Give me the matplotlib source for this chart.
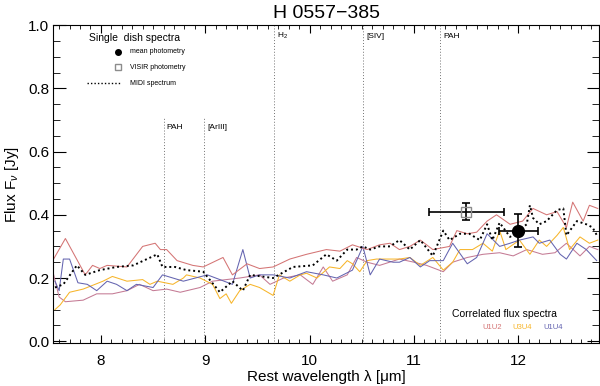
import numpy as np
import matplotlib; matplotlib.use('Agg'); import matplotlib.pyplot as plt
from matplotlib.ticker import MultipleLocator

plt.rcParams['font.family'] = ['Liberation Sans', 'DejaVu Sans']
plt.rcParams['mathtext.fontset'] = 'custom'
plt.rcParams['mathtext.rm'] = 'Liberation Sans'
plt.rcParams['mathtext.it'] = 'Liberation Sans:italic'

# MIDI spectrum (single dish)
midi_x = [7.56, 7.64, 7.77, 7.85, 7.99, 8.15, 8.31, 8.54, 8.59, 8.71, 8.82, 8.98, 9.14, 9.26, 9.36, 9.43,
          9.65, 9.84, 10.03, 10.16, 10.26, 10.36, 10.45, 10.51, 10.58, 10.67, 10.77, 10.86, 10.96, 11.06,
          11.18, 11.28, 11.34, 11.44, 11.53, 11.63, 11.70, 11.75, 11.82, 11.92, 12.08, 12.11, 12.14, 12.20,
          12.27, 12.37, 12.43, 12.46, 12.56, 12.65, 12.71, 12.76]
midi_y = [0.17, 0.18, 0.24, 0.21, 0.225, 0.235, 0.24, 0.275, 0.235, 0.235, 0.225, 0.22, 0.155, 0.19, 0.16, 0.21,
          0.20, 0.235, 0.24, 0.275, 0.255, 0.29, 0.29, 0.30, 0.29, 0.30, 0.30, 0.32, 0.29, 0.32,
          0.27, 0.35, 0.32, 0.34, 0.34, 0.32, 0.37, 0.32, 0.375, 0.33, 0.37, 0.43, 0.39, 0.37,
          0.38, 0.415, 0.42, 0.335, 0.38, 0.37, 0.36, 0.33]

# correlated flux spectra
u12a_x = [7.54, 7.66, 7.85, 7.92, 7.99, 8.06, 8.25, 8.40, 8.52, 8.57, 8.63, 8.73, 8.88, 8.98, 9.17, 9.26,
          9.40, 9.52, 9.65, 9.81, 9.97, 10.16, 10.29, 10.41, 10.55, 10.67, 10.77, 10.86, 10.96, 11.06,
          11.18, 11.34, 11.41, 11.51, 11.60, 11.70, 11.79, 11.92, 12.04, 12.14, 12.27, 12.37, 12.46, 12.52,
          12.62, 12.68, 12.76]
u12a_y = [0.256, 0.325, 0.21, 0.24, 0.23, 0.24, 0.235, 0.30, 0.31, 0.29, 0.29, 0.255, 0.24, 0.235, 0.265, 0.21,
          0.245, 0.23, 0.235, 0.26, 0.275, 0.29, 0.285, 0.305, 0.29, 0.305, 0.31, 0.29, 0.30, 0.32,
          0.29, 0.30, 0.35, 0.34, 0.345, 0.38, 0.40, 0.37, 0.38, 0.42, 0.40, 0.41, 0.36, 0.44,
          0.38, 0.43, 0.42]

u12b_x = [7.54, 7.60, 7.66, 7.83, 7.96, 8.11, 8.25, 8.37, 8.50, 8.63, 8.76, 8.95, 9.07, 9.33, 9.52, 9.62,
          9.75, 9.91, 10.03, 10.13, 10.22, 10.36, 10.45, 10.55, 10.67, 10.86, 11.00, 11.12, 11.28, 11.37,
          11.51, 11.66, 11.82, 11.95, 12.08, 12.23, 12.35, 12.46, 12.59, 12.68, 12.76]
u12b_y = [0.22, 0.14, 0.125, 0.13, 0.15, 0.15, 0.16, 0.18, 0.16, 0.165, 0.155, 0.17, 0.19, 0.20, 0.21, 0.18,
          0.20, 0.21, 0.18, 0.235, 0.19, 0.21, 0.265, 0.25, 0.24, 0.26, 0.25, 0.24, 0.22, 0.25,
          0.265, 0.275, 0.28, 0.27, 0.29, 0.275, 0.28, 0.31, 0.27, 0.30, 0.29]

u34_x = [7.56, 7.61, 7.70, 7.83, 8.02, 8.11, 8.25, 8.40, 8.47, 8.54, 8.69, 8.79, 8.82, 8.95, 9.07, 9.14,
         9.20, 9.25, 9.33, 9.43, 9.52, 9.65, 9.71, 9.81, 9.91, 9.97, 10.07, 10.19, 10.29, 10.36,
         10.41, 10.48, 10.55, 10.64, 10.77, 10.86, 10.96, 11.06, 11.18, 11.28, 11.37, 11.44, 11.56, 11.66,
         11.75, 11.82, 11.88, 12.01, 12.11, 12.20, 12.27, 12.37, 12.43, 12.49, 12.59, 12.68, 12.76]
u34_y = [0.10, 0.115, 0.155, 0.165, 0.19, 0.205, 0.19, 0.195, 0.18, 0.19, 0.18, 0.20, 0.21, 0.20, 0.18, 0.135,
         0.15, 0.12, 0.16, 0.18, 0.17, 0.145, 0.21, 0.19, 0.21, 0.215, 0.20, 0.235, 0.23, 0.255,
         0.245, 0.22, 0.255, 0.26, 0.26, 0.26, 0.265, 0.24, 0.265, 0.225, 0.25, 0.29, 0.29, 0.31,
         0.285, 0.35, 0.29, 0.32, 0.275, 0.32, 0.30, 0.335, 0.36, 0.29, 0.33, 0.31, 0.32]

u14_x = [7.56, 7.60, 7.64, 7.70, 7.78, 7.87, 7.96, 8.06, 8.15, 8.25, 8.34, 8.50, 8.59, 8.69, 8.79, 9.02,
         9.14, 9.26, 9.36, 9.43, 9.52, 9.65, 9.81, 9.97, 10.13, 10.26, 10.41, 10.51, 10.58, 10.67,
         10.80, 10.86, 10.96, 11.06, 11.15, 11.28, 11.37, 11.51, 11.60, 11.70, 11.82, 11.92, 12.01, 12.14,
         12.20, 12.30, 12.40, 12.46, 12.56, 12.65, 12.75]
u14_y = [0.19, 0.16, 0.26, 0.26, 0.185, 0.18, 0.16, 0.19, 0.18, 0.16, 0.18, 0.17, 0.21, 0.20, 0.19, 0.21,
         0.195, 0.18, 0.29, 0.20, 0.21, 0.21, 0.20, 0.22, 0.21, 0.20, 0.225, 0.30, 0.21, 0.26,
         0.25, 0.25, 0.265, 0.235, 0.255, 0.255, 0.31, 0.245, 0.265, 0.34, 0.30, 0.31, 0.32, 0.33,
         0.31, 0.32, 0.275, 0.26, 0.31, 0.29, 0.255]

# photometry
phot_x, phot_y, phot_xerr, phot_yerr = 12.0, 0.35, 0.19, 0.053
visir_x, visir_y, visir_xerr, visir_yerr = 11.5, 0.41, 0.36, 0.028

# line markers
lines_lam = [8.6, 8.99, 9.66, 10.51, 11.25]
lines_lab = ['PAH', '[ArIII]', 'H$_2$', '[SIV]', 'PAH']
lines_top = [0.71, 0.71, 1.0, 1.0, 1.0]

fig = plt.figure(figsize=(6, 3.86), dpi=100)
ax = fig.add_axes([0.089, 0.111, 0.909, 0.824])

for lam, lab, top in zip(lines_lam, lines_lab, lines_top):
    ax.plot([lam, lam], [0, top], ls=(0, (1, 2)), color='0.45', lw=0.7)
    ax.text(lam + 0.03, top - 0.035, lab, fontsize=6, ha='left', va='center')

ax.plot(u12b_x, u12b_y, color='#c47a94', lw=0.75)
ax.plot(u34_x, u34_y, color='#f7b52a', lw=0.75)
ax.plot(u14_x, u14_y, color='#6464b0', lw=0.75)
ax.plot(u12a_x, u12a_y, color='#d47474', lw=0.75)
ax.plot(midi_x, midi_y, color='black', ls=(0, (1, 1.5)), lw=1.4)

ax.errorbar(visir_x, visir_y, xerr=visir_xerr, yerr=visir_yerr, fmt='s', ms=7, mfc='none', mec='0.55',
            ecolor='black', elinewidth=1.2, capsize=3, capthick=1.2)
ax.errorbar(phot_x, phot_y, xerr=phot_xerr, yerr=phot_yerr, fmt='o', ms=8.5, color='black',
            ecolor='black', elinewidth=1.2, capsize=3, capthick=1.2)

# single dish legend
ax.text(7.89, 0.96, 'Single  dish spectra', fontsize=7.5, va='center')
ax.plot([8.16], [0.916], 'o', color='black', ms=4)
ax.text(8.28, 0.916, 'mean photometry', fontsize=5, va='center')
ax.plot([8.16], [0.866], 's', mfc='none', mec='0.55', ms=4)
ax.text(8.28, 0.866, 'VISIR photometry', fontsize=5, va='center')
ax.plot([7.87, 8.19], [0.816, 0.816], color='black', ls=(0, (1, 1.5)), lw=1)
ax.text(8.28, 0.816, 'MIDI spectrum', fontsize=5, va='center')

# correlated flux legend
ax.text(11.36, 0.085, 'Correlated flux spectra', fontsize=7.5, va='center')
ax.text(11.65, 0.043, 'U1U2', fontsize=5.5, va='center', color='#d47474')
ax.text(11.94, 0.043, 'U3U4', fontsize=5.5, va='center', color='#f7b52a')
ax.text(12.24, 0.043, 'U1U4', fontsize=5.5, va='center', color='#6464b0')

ax.set_xlim(7.545, 12.77)
ax.set_ylim(-0.006, 1.0)
ax.xaxis.set_major_locator(MultipleLocator(1))
ax.xaxis.set_minor_locator(MultipleLocator(0.1))
ax.yaxis.set_major_locator(MultipleLocator(0.2))
ax.yaxis.set_minor_locator(MultipleLocator(0.05))
ax.yaxis.set_major_formatter(plt.FormatStrFormatter('%.1f'))
ax.tick_params(which='both', direction='in', top=True, right=True, labelsize=11)
ax.tick_params(axis='x', which='major', length=6, pad=8)
ax.tick_params(axis='x', which='minor', length=3)
ax.tick_params(axis='y', which='major', length=9, pad=3)
ax.tick_params(axis='y', which='minor', length=5)

ax.set_xlabel('Rest wavelength λ [μm]', fontsize=11, labelpad=1)
ax.set_ylabel(r'Flux F$_{\nu}$ [Jy]', fontsize=11, labelpad=5)
ax.set_title('H 0557−385', fontsize=14, pad=5)

plt.savefig('out.png', dpi=100)
